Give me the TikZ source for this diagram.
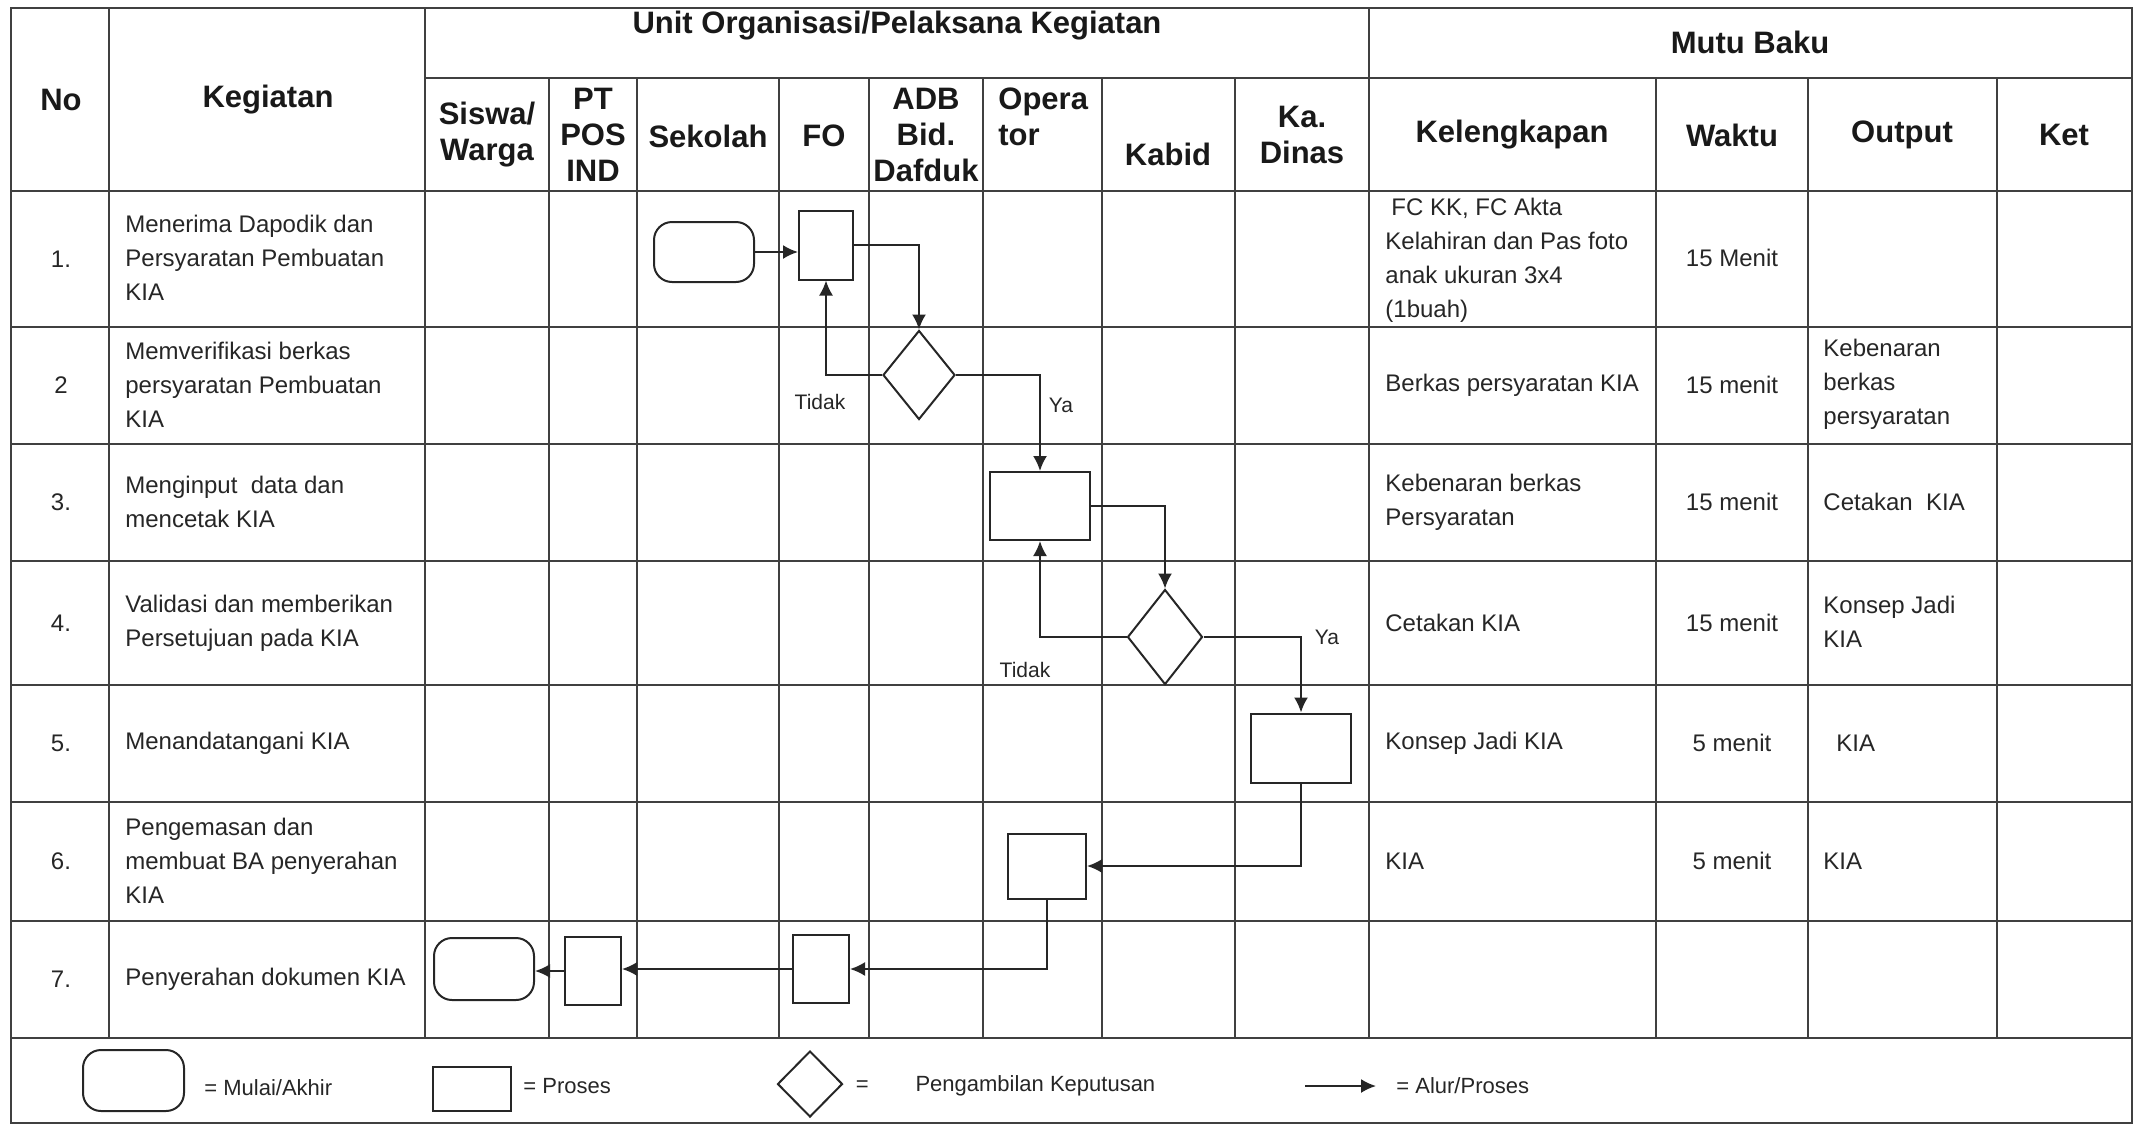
\documentclass[tikz,border=0pt]{standalone}
\usepackage{fontspec}
\setmainfont{Liberation Sans}
\usetikzlibrary{shapes.geometric, arrows.meta, calc, positioning}
\tikzstyle{proses} = [rectangle, line width=1pt, draw=black!85, inner sep=0pt]
\tikzstyle{mulai} = [rectangle, rounded corners=9pt, line width=1pt, draw=black!85, inner sep=0pt]
\tikzstyle{keputusan} = [diamond, line width=1pt, draw=black!85, inner sep=0pt]
\tikzstyle{arrow} = [line width=1pt, draw=black!85, -{Latex[length=7.5pt, width=7pt]}]
\tikzstyle{garis} = [line width=0.9pt, draw=black!75]
\tikzstyle{judul} = [font=\fontsize{15.5}{18}\selectfont\bfseries, text=black!90, align=center, inner sep=0pt]
\tikzstyle{isi} = [font=\fontsize{12}{17}\selectfont, text=black!85, align=left, inner sep=0pt]
\tikzstyle{kecil} = [font=\fontsize{10.5}{12}\selectfont, text=black!85, inner sep=0pt]
\tikzstyle{ket} = [font=\fontsize{11}{13}\selectfont, text=black!85, inner sep=0pt]

\begin{document}
\begin{tikzpicture}[x=0.5pt, y=-0.5pt]
		\useasboundingbox (0,0) rectangle (2136,1125);
		% tabel
		\draw [garis] (11,8) rectangle (2132,1123);
		\draw [garis] (109,8) -- (109,1038);
		\draw [garis] (425,8) -- (425,1038);
		\draw [garis] (1369,8) -- (1369,1038);
		\draw [garis] (425,78) -- (2132,78);
		\draw [garis] (549,78) -- (549,1038);
		\draw [garis] (637,78) -- (637,1038);
		\draw [garis] (779,78) -- (779,1038);
		\draw [garis] (869,78) -- (869,1038);
		\draw [garis] (983,78) -- (983,1038);
		\draw [garis] (1102,78) -- (1102,1038);
		\draw [garis] (1235,78) -- (1235,1038);
		\draw [garis] (1656,78) -- (1656,1038);
		\draw [garis] (1808,78) -- (1808,1038);
		\draw [garis] (1997,78) -- (1997,1038);
		\draw [garis] (11,191) -- (2132,191);
		\draw [garis] (11,327) -- (2132,327);
		\draw [garis] (11,444) -- (2132,444);
		\draw [garis] (11,561) -- (2132,561);
		\draw [garis] (11,685) -- (2132,685);
		\draw [garis] (11,802) -- (2132,802);
		\draw [garis] (11,921) -- (2132,921);
		\draw [garis] (11,1038) -- (2132,1038);

		% judul kolom
		\node (No) [judul] at (61,100) {No};
		\node (Kegiatan) [judul] at (268,100) {Kegiatan};
		\node (UnitOrg) [judul] at (897,26) {Unit Organisasi/Pelaksana Kegiatan};
		\node (MutuBaku) [judul] at (1750,42) {Mutu Baku};
		\node (Siswa) [judul] at (487,135) {Siswa/\\Warga};
		\node (PtPos) [judul] at (593,135) {PT\\POS\\IND};
		\node (Sekolah) [judul] at (708,136) {Sekolah};
		\node (FO) [judul] at (824,136) {FO};
		\node (ADB) [judul] at (926,135) {ADB\\Bid.\\Dafduk};
		\node (Operator) [judul, align=left, anchor=west] at (998,117) {Opera\\tor};
		\node (Kabid) [judul] at (1168,154) {Kabid};
		\node (KaDinas) [judul] at (1302,135) {Ka.\\Dinas};
		\node (Kelengkapan) [judul] at (1512,135) {Kelengkapan};
		\node (Waktu) [judul] at (1732,135) {Waktu};
		\node (Output) [judul] at (1902,135) {Output};
		\node (Ket) [judul] at (2064,135) {Ket};

		% nomor
		\node (NoA) [isi] at (61,259) {1.};
		\node (NoB) [isi] at (61,385) {2};
		\node (NoC) [isi] at (61,502) {3.};
		\node (NoD) [isi] at (61,623) {4.};
		\node (NoE) [isi] at (61,743) {5.};
		\node (NoF) [isi] at (61,861) {6.};
		\node (NoG) [isi] at (61,979) {7.};

		% kegiatan
		\node (KegA) [isi, anchor=west] at (125,258) {Menerima Dapodik dan\\Persyaratan Pembuatan\\KIA};
		\node (KegB) [isi, anchor=west] at (125,385) {Memverifikasi berkas\\persyaratan Pembuatan\\KIA};
		\node (KegC) [isi, anchor=west] at (125,502) {Menginput\ \ data dan\\mencetak KIA};
		\node (KegD) [isi, anchor=west] at (125,623) {Validasi dan memberikan\\Persetujuan pada KIA};
		\node (KegE) [isi, anchor=west] at (125,743) {Menandatangani KIA};
		\node (KegF) [isi, anchor=west] at (125,861) {Pengemasan dan\\membuat BA penyerahan\\KIA};
		\node (KegG) [isi, anchor=west] at (125,979) {Penyerahan dokumen KIA};

		% kelengkapan
		\node (KelA) [isi, anchor=west] at (1385,260) {\hspace*{3pt}FC KK, FC Akta\\Kelahiran dan Pas foto\\anak ukuran 3x4\\(1buah)};
		\node (KelB) [isi, anchor=west] at (1385,385) {Berkas persyaratan KIA};
		\node (KelC) [isi, anchor=west] at (1385,502) {Kebenaran berkas\\Persyaratan};
		\node (KelD) [isi, anchor=west] at (1385,623) {Cetakan KIA};
		\node (KelE) [isi, anchor=west] at (1385,743) {Konsep Jadi KIA};
		\node (KelF) [isi, anchor=west] at (1385,861) {KIA};

		% waktu
		\node (WakA) [isi] at (1732,258) {15 Menit};
		\node (WakB) [isi] at (1732,385) {15 menit};
		\node (WakC) [isi] at (1732,502) {15 menit};
		\node (WakD) [isi] at (1732,623) {15 menit};
		\node (WakE) [isi] at (1732,743) {5 menit};
		\node (WakF) [isi] at (1732,861) {5 menit};

		% output
		\node (OutB) [isi, anchor=west] at (1823,384) {Kebenaran\\berkas\\persyaratan};
		\node (OutC) [isi, anchor=west] at (1823,502) {Cetakan\ \ KIA};
		\node (OutD) [isi, anchor=west] at (1823,622) {Konsep Jadi\\KIA};
		\node (OutE) [isi, anchor=west] at (1836,743) {KIA};
		\node (OutF) [isi, anchor=west] at (1823,861) {KIA};

		% bagan alir
		\node (Mulai) [mulai, minimum width=50pt, minimum height=30pt] at (704,252) {};
		\node (FoA) [proses, minimum width=27pt, minimum height=34.5pt] at (826,245) {};
		\node (CekA) [keputusan, minimum width=36pt, minimum height=44.5pt] at (919,375) {};
		\node (OpC) [proses, minimum width=50pt, minimum height=34pt] at (1040,506) {};
		\node (CekB) [keputusan, minimum width=37.5pt, minimum height=47.5pt] at (1165,637) {};
		\node (KdE) [proses, minimum width=50pt, minimum height=34.5pt] at (1301,748) {};
		\node (OpF) [proses, minimum width=39pt, minimum height=32.5pt] at (1047,866) {};
		\node (FoG) [proses, minimum width=28pt, minimum height=34pt] at (821,969) {};
		\node (PtG) [proses, minimum width=28pt, minimum height=34pt] at (593,971) {};
		\node (Akhir) [mulai, minimum width=50pt, minimum height=31pt] at (484,969) {};
		\node (TidakA) [kecil] at (820,402) {Tidak};
		\node (YaA) [kecil] at (1061,405) {Ya};
		\node (TidakB) [kecil] at (1025,670) {Tidak};
		\node (YaB) [kecil] at (1327,637) {Ya};

		\draw [arrow] (Mulai.east) -- (Mulai.east -| FoA.west);
		\draw [arrow] (FoA.east) -| (CekA.north);
		\draw [arrow] (CekA.west) -| (FoA.south);
		\draw [arrow] (CekA.east) -| (OpC.north);
		\draw [arrow] (OpC.east) -| (CekB.north);
		\draw [arrow] (CekB.west) -| (OpC.south);
		\draw [arrow] (CekB.east) -| (KdE.north);
		\draw [arrow] (KdE.south) |- (OpF.east);
		\draw [arrow] (OpF.south) |- (FoG.east);
		\draw [arrow] (FoG.west) -- (FoG.west -| PtG.east);
		\draw [arrow] (PtG.west) -- (PtG.west -| Akhir.east);

		% keterangan
		\node (LgMulai) [mulai, minimum width=50.5pt, minimum height=30.5pt] at (133.5,1080.5) {};
		\node (LgMulaiTeks) [ket, right = 9.5pt of LgMulai, yshift=-3.5pt] {= Mulai/Akhir};
		\node (LgProses) [proses, minimum width=39pt, minimum height=22pt] at (472,1089) {};
		\node (LgProsesTeks) [ket, right = 5.5pt of LgProses, yshift=1.5pt] {= Proses};
		\node (LgCek) [keputusan, minimum width=32.5pt, minimum height=33pt] at (810,1084) {};
		\node (LgSama) [ket, right = 6pt of LgCek, yshift=-1pt] {=};
		\node (LgCekTeks) [ket, right = 23pt of LgSama] {Pengambilan Keputusan};
		\coordinate (AlurA) at (1305,1086);
		\coordinate (AlurB) at (1376,1086);
		\draw [arrow] (AlurA) -- (AlurB);
		\node (LgAlurTeks) [ket, right = 10pt of AlurB] {= Alur/Proses};
\end{tikzpicture}
\end{document}
